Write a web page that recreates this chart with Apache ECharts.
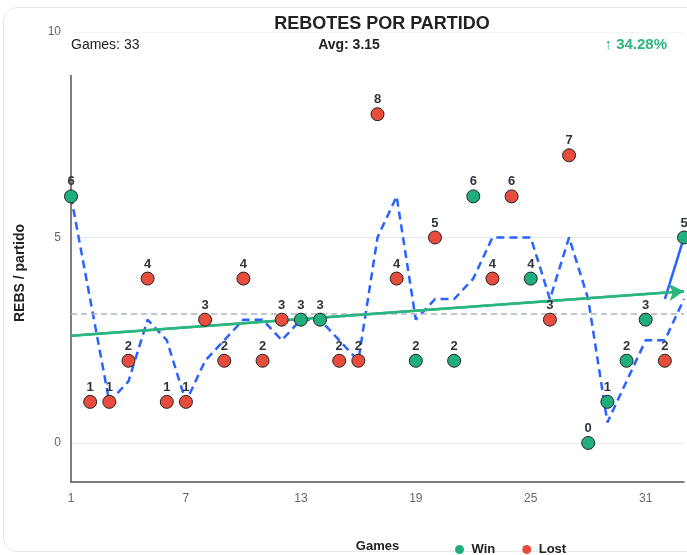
<!DOCTYPE html>
<html>
<head>
<meta charset="utf-8">
<title>Rebotes por partido</title>
<script src="https://cdn.jsdelivr.net/npm/echarts@6/dist/echarts.min.js"></script>
<style>
  html, body { margin: 0; padding: 0; background: #fff; overflow: hidden; }
  #wrap { position: relative; width: 687px; height: 555px; overflow: hidden; }
  #card {
    position: absolute; left: 3px; top: 7px; width: 730px; height: 545px;
    border: 1px solid #e8e8e8; border-radius: 14px; box-sizing: border-box;
  }
  #chart { position: absolute; left: 0; top: 0; width: 687px; height: 555px; }
</style>
</head>
<body>
<div id="wrap">
  <div id="card"></div>
  <div id="chart"></div>
</div>
<script>
// games played (x categories)
var games = ['1', '2', '3', '4', '5', '6', '7', '8', '9', '10', '11', '12', '13', '14', '15', '16', '17',
  '18', '19', '20', '21', '22', '23', '24', '25', '26', '27', '28', '29', '30', '31', '32', '33']
// rebounds per game
var rebounds = [6, 1, 1, 2, 4, 1, 1, 3, 2, 4, 2, 3, 3, 3, 2, 2, 8, 4, 2, 5, 2, 6, 4, 6, 4, 3, 7, 0, 1, 2, 3, 2, 5]
// W = win, L = lost
var results = ['W', 'L', 'L', 'L', 'L', 'L', 'L', 'L', 'L', 'L', 'L', 'L', 'W', 'W', 'L', 'L', 'L',
  'L', 'W', 'L', 'W', 'W', 'L', 'L', 'W', 'L', 'L', 'W', 'W', 'W', 'W', 'L', 'W']
// dashed blue line
var movingAvg = [6, 3.5, 1, 1.5, 3, 2.5, 1, 2, 2.5, 3, 3, 2.5, 3, 3, 2.5, 2, 5, 6, 3, 3.5, 3.5, 4, 5, 5, 5,
  3.5, 5, 3.5, 0.5, 1.5, 2.5, 2.5, 3.5]
// trend line ends (first game, last game)
var trendEnds = [2.61, 3.69]
// solid blue segment at the end (game 32 -> game 33)
var lastStep = [3.5, 5]
var avgValue = 3.15
var trendPct = '34.28'
var yLabels = [0, 5, 10]

var WIN = '#1fae7c'
var LOST = '#e74c3c'
var BLUE = '#2962ff'
var FONT = '"Liberation Sans", Arial, sans-serif'

var winData = rebounds.map(function (v, i) { return results[i] === 'W' ? v : '-' })
var lostData = rebounds.map(function (v, i) { return results[i] === 'L' ? v : '-' })
var trendData = games.map(function () { return '-' })
trendData[0] = trendEnds[0]
trendData[games.length - 1] = trendEnds[1]
var lastData = games.map(function () { return '-' })
lastData[games.length - 2] = lastStep[0]
lastData[games.length - 1] = lastStep[1]

var pointStyle = function (color) {
  return {
    type: 'scatter',
    symbol: 'circle',
    symbolSize: 13,
    z: 10,
    itemStyle: { color: color, borderColor: '#222', borderWidth: 1, opacity: 1 },
    label: {
      show: true,
      position: 'top',
      distance: 1,
      color: '#2d3340',
      fontWeight: 'bold',
      fontSize: 13,
      fontFamily: FONT
    },
    emphasis: { disabled: true }
  }
}

var chart = echarts.init(document.getElementById('chart'))
var option = {
  animation: false,
  textStyle: { fontFamily: FONT },
  title: {
    text: 'REBOTES POR PARTIDO',
    left: 377,
    top: 10,
    textAlign: 'center',
    textStyle: { fontSize: 18, fontWeight: 'bold', color: '#222', fontFamily: FONT }
  },
  legend: {
    left: 450,
    top: 538,
    itemWidth: 14,
    itemHeight: 9,
    itemGap: 27,
    icon: 'circle',
    itemStyle: { borderWidth: 0 },
    textStyle: { fontSize: 13, fontWeight: 'bold', color: '#222', fontFamily: FONT },
    data: ['Win', 'Lost']
  },
  grid: { left: 71, right: 3, top: 32, bottom: 73, containLabel: false, outerBoundsMode: 'none' },
  xAxis: {
    type: 'category',
    data: games,
    boundaryGap: false,
    name: 'Games',
    nameLocation: 'middle',
    nameGap: 58,
    nameTextStyle: { fontSize: 13, fontWeight: 'bold', color: '#222' },
    axisLine: { onZero: false, lineStyle: { color: '#555', width: 1.5 } },
    axisTick: { show: false },
    axisLabel: { interval: 5, color: '#666', fontSize: 12, margin: 11 },
    splitLine: { show: false }
  },
  yAxis: {
    type: 'value',
    min: -0.95,
    max: 10,
    name: 'REBS / partido',
    nameLocation: 'middle',
    nameGap: 44,
    nameTextStyle: { fontSize: 14, fontWeight: 'bold', color: '#222', padding: [0, 32, 0, 0] },
    axisLine: { show: true, lineStyle: { color: '#555', width: 1.5 } },
    axisTick: { show: false, customValues: yLabels },
    axisLabel: { customValues: yLabels, color: '#666', fontSize: 12, margin: 10 },
    splitLine: { show: true, lineStyle: { color: '#e6ebf2', width: 1 } }
  },
  graphic: [
    {
      // header band hides the top of the y axis line
      type: 'rect',
      z: 50,
      shape: { x: 66, y: 32.6, width: 640, height: 42.4 },
      style: { fill: '#fff' },
      silent: true
    },
    {
      type: 'rect',
      z: 50,
      shape: { x: 69, y: 30, width: 5, height: 4 },
      style: { fill: '#fff' },
      silent: true
    },
    {
      type: 'text',
      z: 60,
      x: 71,
      y: 45,
      style: { text: 'Games: ' + games.length, font: '14px ' + FONT, fill: '#222', textVerticalAlign: 'middle' }
    },
    {
      type: 'text',
      z: 60,
      x: 349,
      y: 45,
      style: {
        text: 'Avg: ' + avgValue.toFixed(2),
        font: 'bold 14px ' + FONT,
        fill: '#222',
        textAlign: 'center',
        textVerticalAlign: 'middle'
      }
    },
    {
      type: 'text',
      z: 60,
      x: 667,
      y: 45,
      style: {
        text: '\u2191 ' + trendPct + '%',
        font: 'bold 15px ' + FONT,
        fill: '#2bb57f',
        textAlign: 'right',
        textVerticalAlign: 'middle'
      }
    }
  ],
  series: [
    {
      name: 'avg',
      type: 'line',
      data: movingAvg,
      symbol: 'none',
      z: 3,
      lineStyle: { color: BLUE, width: 2.5, type: [8, 5] },
      markLine: {
        silent: true,
        symbol: ['none', 'none'],
        label: { show: false },
        lineStyle: { color: '#aab3c2', width: 1.5, type: [6, 4] },
        data: [{ yAxis: avgValue }]
      }
    },
    {
      name: 'trend',
      type: 'line',
      data: trendData,
      connectNulls: true,
      symbol: 'none',
      z: 4,
      lineStyle: { color: '#2bb57f', width: 2.5 },
      markLine: {
        silent: true,
        symbol: ['none', 'arrow'],
        symbolSize: [13, 15],
        label: { show: false },
        lineStyle: { color: '#2bb57f', width: 2.5, type: 'solid' },
        data: [[{ coord: [0, trendEnds[0]] }, { coord: [games.length - 1, trendEnds[1]] }]]
      }
    },
    {
      name: 'last',
      type: 'line',
      data: lastData,
      symbol: 'none',
      z: 4,
      lineStyle: { color: BLUE, width: 2.5 }
    },
    Object.assign(pointStyle(WIN), { name: 'Win', data: winData }),
    Object.assign(pointStyle(LOST), { name: 'Lost', data: lostData })
  ]
}
chart.setOption(option)
</script>
</body>
</html>
